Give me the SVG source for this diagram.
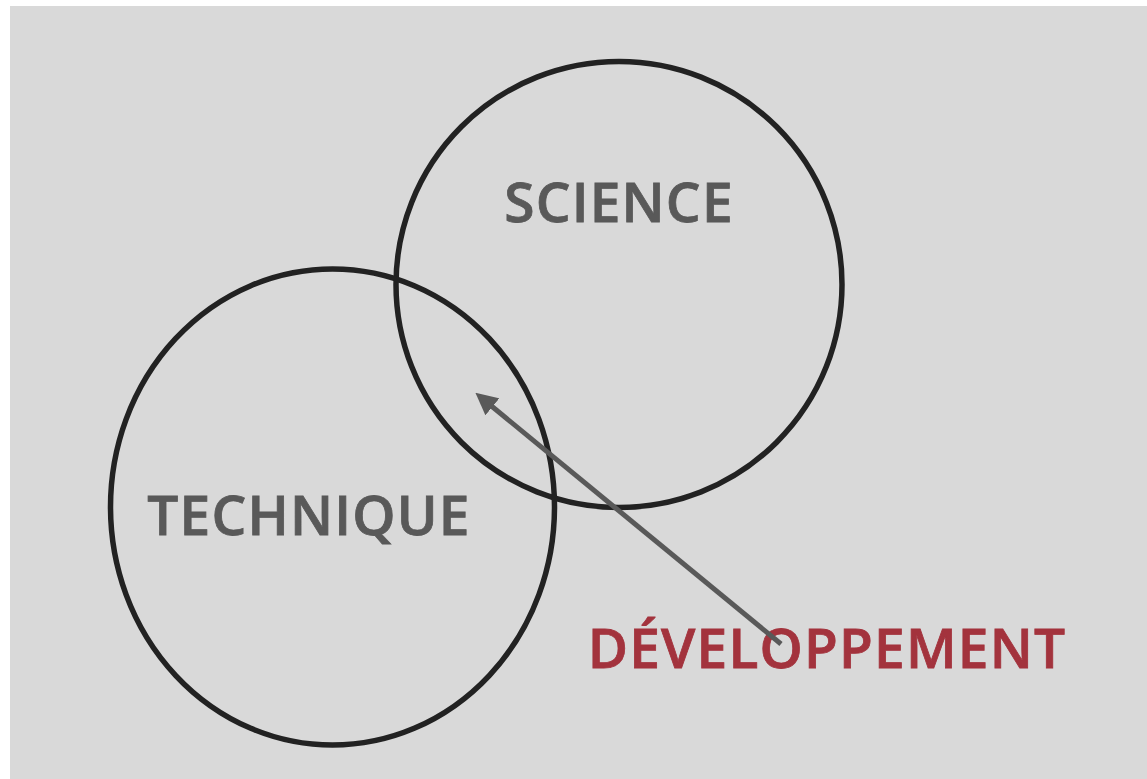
<svg xmlns="http://www.w3.org/2000/svg" width="1147" height="779" viewBox="0 0 1147 779">
<style>
.c{fill:none;stroke:#222;stroke-width:5.5}
.t{font-family:"Open Sans","Liberation Sans",sans-serif;font-weight:600;font-size:55px;letter-spacing:1.2px;fill:#595959;stroke:#595959;stroke-width:0.8px}
.r{fill:#a3333d;stroke:#a3333d}
</style>
<defs>
<marker id="ah" viewBox="0 0 10 10" refX="2" refY="5" markerWidth="4.4" markerHeight="4.4" orient="auto-start-reverse" markerUnits="strokeWidth">
<path d="M0,0 L10,5 L0,10 z" fill="#595959"/>
</marker>
</defs>
<rect x="10" y="6" width="1137" height="773" fill="#d9d9d9"/>
<g id="science">
<ellipse class="c" cx="619" cy="284.5" rx="223" ry="223"/>
<text class="t" x="619" y="222" text-anchor="middle">SCIENCE</text>
</g>
<g id="technique">
<ellipse class="c" cx="332.5" cy="507" rx="222" ry="238"/>
<text class="t" x="309" y="535" text-anchor="middle">TECHNIQUE</text>
</g>
<g id="developpement">
<text class="t r" x="827" y="668" text-anchor="middle">DÉVELOPPEMENT</text>
</g>
<g id="connectors">
<line x1="781" y1="644" x2="489" y2="404" stroke="#595959" stroke-width="5" marker-end="url(#ah)"/>
</g>
</svg>
